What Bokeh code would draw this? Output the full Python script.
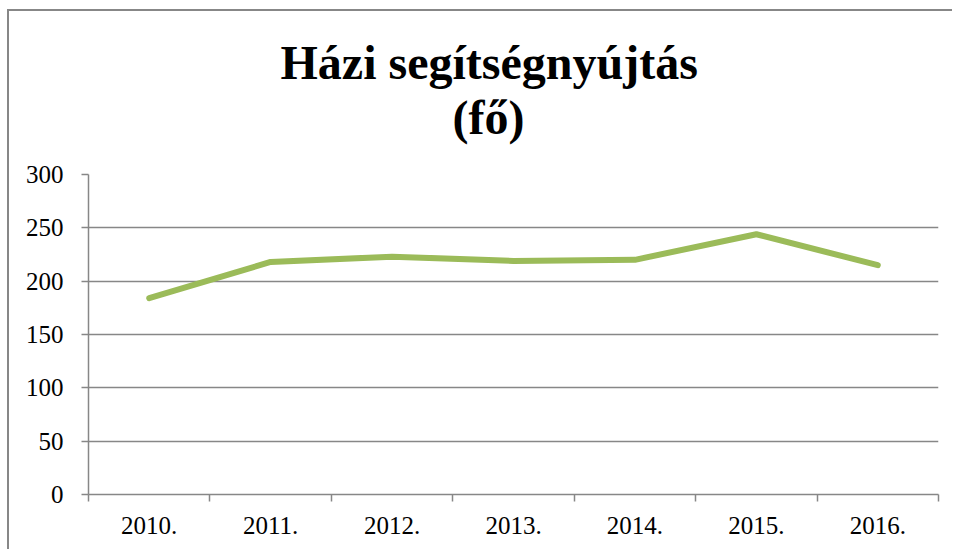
import numpy as np
from bokeh.plotting import figure
from bokeh.models import Range1d, FixedTicker, Title
from bokeh.embed import file_html
from bokeh.resources import INLINE

# ---- data ----
years = ["2010.", "2011.", "2012.", "2013.", "2014.", "2015.", "2016."]
values = [184, 218, 223, 219, 220, 244, 215]
y_ticks = [0, 50, 100, 150, 200, 250, 300]
title_line1 = "Házi segítségnyújtás"
title_line2 = "(fő)"

GRID = "#878787"
LINE = "#9BBB59"
FONT = "Liberation Serif"

n = len(years)
xs = np.arange(n) + 0.5  # category centres on a numeric axis

p = figure(width=945, height=540, output_backend="svg", toolbar_location=None,
           x_range=Range1d(0, n), y_range=Range1d(y_ticks[0], y_ticks[-1]),
           min_border_left=79, min_border_right=16, min_border_top=163,
           min_border_bottom=57)
p.outline_line_color = None
p.background_fill_color = "white"
p.border_fill_color = "white"
p.styles = {"margin-left": "7px", "margin-top": "9px",
            "border-left": "2px solid #878787", "border-top": "2px solid #878787"}

p.line(xs, values, line_color=LINE, line_width=6, line_cap="round", line_join="round")

# x axis: labels at category centres, ticks at category boundaries
xa = p.xaxis[0]
xa.ticker = FixedTicker(ticks=list(xs), minor_ticks=list(range(n + 1)))
xa.major_label_overrides = {float(x): y for x, y in zip(xs, years)}
xa.major_tick_out = 0
xa.major_tick_in = 0
xa.minor_tick_out = 7
xa.minor_tick_in = 0
xa.minor_tick_line_color = GRID
xa.minor_tick_line_width = 1.5
xa.axis_line_color = GRID
xa.axis_line_width = 1.5
xa.major_label_text_font = FONT
xa.major_label_text_font_size = "25px"
xa.major_label_text_color = "black"
xa.major_label_standoff = 15

ya = p.yaxis[0]
ya.ticker = FixedTicker(ticks=y_ticks, minor_ticks=[])
ya.major_tick_out = 7
ya.major_tick_in = 0
ya.major_tick_line_color = GRID
ya.major_tick_line_width = 1.5
ya.minor_tick_line_color = None
ya.axis_line_color = GRID
ya.axis_line_width = 1.5
ya.major_label_text_font = FONT
ya.major_label_text_font_size = "25px"
ya.major_label_text_color = "black"
ya.major_label_standoff = 18

p.xgrid.visible = False
p.ygrid.ticker = FixedTicker(ticks=y_ticks)
p.ygrid.grid_line_color = GRID
p.ygrid.grid_line_width = 1.5

# spacer between the plot area and the two title lines
p.add_layout(Title(text=" ", text_font_size="1px", standoff=28), "above")
p.add_layout(Title(text=title_line2, align="left", offset=364, standoff=0,
                   text_font=FONT, text_font_style="bold", text_font_size="48px",
                   text_color="black"), "above")
p.add_layout(Title(text=title_line1, align="left", offset=192, standoff=0,
                   text_font=FONT, text_font_style="bold", text_font_size="48px",
                   text_color="black"), "above")

open("out.html", "w").write(file_html(p, INLINE))
